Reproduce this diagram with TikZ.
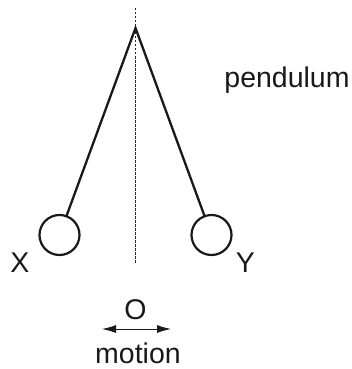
\documentclass[tikz,border=0pt]{standalone}
\usepackage{fontspec}
\setmainfont{Liberation Sans}
\usetikzlibrary{arrows.meta}
\tikzset{
  bob/.style={circle,draw=black!90,line width=2.2pt,minimum size=40pt,inner sep=0pt,outer sep=0pt},
  rod/.style={draw=black!90,line width=2.3pt,line cap=round},
  guide/.style={draw=black!85,line width=1pt,dash pattern=on 2.5pt off 1.5pt},
  swing/.style={draw=black!90,line width=1pt,{Latex[length=14pt,width=8pt]}-{Latex[length=14pt,width=8pt]}},
  lab/.style={inner sep=0pt,outer sep=0pt,text=black!90,font=\fontsize{28.5}{32}\selectfont,anchor=base}
}
\begin{document}
\begin{tikzpicture}[x=1pt,y=-1pt]
\useasboundingbox (0,0) rectangle (352,369);
\coordinate (top) at (135.5,8);
\coordinate (foot) at (135.5,263);
\coordinate (apex) at (135.5,28);
\coordinate (swingL) at (102,329);
\coordinate (swingR) at (171,329);
\node[bob] (X) at (59.5,235) {};
\node[bob] (Y) at (211.5,235) {};
\draw[guide] (top) -- (foot);
\draw[rod] (X) -- (apex) -- (Y);
\draw[swing] (swingL) -- (swingR);
\node[lab] (lx) at (20,272) {X};
\node[lab] (ly) at (245.5,272) {Y};
\node[lab] (lo) at (135.5,319.5) {O};
\node[lab] (lm) at (138,363) {motion};
\node[lab] (lp) at (287,87) {pendulum};
\end{tikzpicture}
\end{document}
